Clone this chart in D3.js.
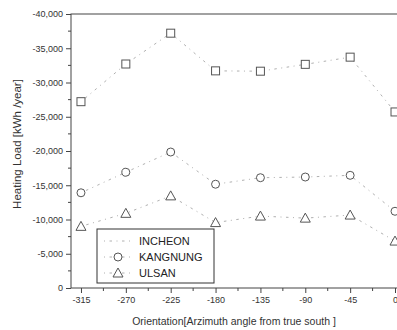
<!DOCTYPE html>
<html>
<head>
<meta charset="utf-8">
<script src="https://cdn.jsdelivr.net/npm/d3@7"></script>
<style>
  html, body { margin: 0; padding: 0; background: #fff; }
  svg { display: block; font-family: "Liberation Sans", Arial, sans-serif; }
</style>
</head>
<body>
<svg id="chart" width="397" height="330"></svg>
<script>
// Orientation angles (degrees from true south)
const orientations = [-315, -270, -225, -180, -135, -90, -45, 0];
const xTickValues = [-315, -270, -225, -180, -135, -90, -45, 0];
const yTickValues = [0, -5000, -10000, -15000, -20000, -25000, -30000, -35000, -40000];

// Heating load per city [kWh/year]
const incheon  = [-27200, -32700, -37200, -31700, -31650, -32650, -33700, -25700];
const kangnung = [-13900, -16900, -19850, -15150, -16100, -16200, -16450, -11200];
const ulsan    = [-9000, -10900, -13450, -9550, -10500, -10200, -10650, -6850];

const seriesNames = ["INCHEON", "KANGNUNG", "ULSAN"];
const seriesValues = [incheon, kangnung, ulsan];
const seriesMarkers = ["square", "circle", "triangle"];

const svg = d3.select("#chart");
const plotLeft = 71, plotRight = 400, plotTop = 14, plotBottom = 288;

const x = d3.scaleLinear().domain([-325, 5]).range([plotLeft, plotRight]);
const y = d3.scaleLinear().domain([0, -40000]).range([plotBottom, plotTop]);

const axisColor = "#444";
const textColor = "#333";

// Frame
svg.append("rect")
  .attr("x", plotLeft).attr("y", plotTop)
  .attr("width", plotRight - plotLeft).attr("height", plotBottom - plotTop)
  .attr("fill", "none").attr("stroke", axisColor).attr("stroke-width", 1);

// X axis
const xAxis = svg.append("g").attr("transform", `translate(0,${plotBottom})`)
  .call(d3.axisBottom(x).tickValues(xTickValues).tickSize(5).tickPadding(4));
const xMinor = d3.range(-292.5, 0, 45);
svg.append("g").attr("transform", `translate(0,${plotBottom})`)
  .selectAll("line").data(xMinor).join("line")
  .attr("x1", d => x(d)).attr("x2", d => x(d))
  .attr("y1", 0).attr("y2", 3)
  .attr("stroke", axisColor);

// Y axis
const yAxis = svg.append("g").attr("transform", `translate(${plotLeft},0)`)
  .call(d3.axisLeft(y).tickValues(yTickValues).tickSize(5).tickPadding(3));
const yMinor = d3.range(-2500, -40000, -5000);
svg.append("g").attr("transform", `translate(${plotLeft},0)`)
  .selectAll("line").data(yMinor).join("line")
  .attr("x1", -3).attr("x2", 0)
  .attr("y1", d => y(d)).attr("y2", d => y(d))
  .attr("stroke", axisColor);

[xAxis, yAxis].forEach(g => {
  g.select(".domain").remove();
  g.selectAll(".tick line").attr("stroke", axisColor);
  g.selectAll(".tick text")
    .attr("fill", textColor)
    .style("font-size", "9px")
    .style("font-family", "'Liberation Sans', Arial, sans-serif");
});
// Labels use a plain hyphen for the minus sign
yAxis.selectAll(".tick text").text(d => d === 0 ? "0" : "-" + d3.format(",")(-d));
xAxis.selectAll(".tick text").text(d => d === 0 ? "0" : "-" + (-d));

// Axis titles
svg.append("text")
  .attr("x", 234).attr("y", 325)
  .attr("text-anchor", "middle")
  .attr("fill", textColor)
  .style("font-size", "10.5px")
  .text("Orientation[Arzimuth angle from true south ]");

svg.append("text")
  .attr("transform", "translate(21,144) rotate(-90)")
  .attr("text-anchor", "middle")
  .attr("fill", textColor)
  .style("font-size", "11.5px")
  .text("Heating Load [kWh /year]");

// Series lines and markers
const lineGen = d3.line().x((d, i) => x(orientations[i])).y(d => y(d));
const lineColor = "#b0b0b0";
const dash = "1,4.5,2.5,4.5";

function drawMarker(g, type, cx, cy) {
  const stroke = "#555";
  if (type === "square") {
    g.append("rect").attr("x", cx - 4).attr("y", cy - 4).attr("width", 8).attr("height", 8)
      .attr("fill", "#fff").attr("stroke", stroke).attr("stroke-width", 1);
  } else if (type === "circle") {
    g.append("circle").attr("cx", cx).attr("cy", cy).attr("r", 4)
      .attr("fill", "#fff").attr("stroke", stroke).attr("stroke-width", 1);
  } else {
    g.append("path")
      .attr("d", `M${cx},${cy - 5}L${cx + 5},${cy + 4}L${cx - 5},${cy + 4}Z`)
      .attr("fill", "#fff").attr("stroke", stroke).attr("stroke-width", 1);
  }
}

seriesValues.forEach((vals, si) => {
  const g = svg.append("g");
  g.append("path").attr("d", lineGen(vals))
    .attr("fill", "none").attr("stroke", lineColor)
    .attr("stroke-width", 1).attr("stroke-dasharray", dash);
  vals.forEach((v, i) => drawMarker(g, seriesMarkers[si], x(orientations[i]), y(v)));
});

// Legend
const legend = svg.append("g");
legend.append("rect")
  .attr("x", 97).attr("y", 229).attr("width", 117).attr("height", 54)
  .attr("fill", "#fff").attr("stroke", "#333").attr("stroke-width", 1);
const legendY = [241, 257, 273];
seriesNames.forEach((name, i) => {
  const ly = legendY[i];
  legend.append("line")
    .attr("x1", 104).attr("x2", 132).attr("y1", ly).attr("y2", ly)
    .attr("stroke", lineColor).attr("stroke-width", 1).attr("stroke-dasharray", dash);
  if (i > 0) drawMarker(legend, seriesMarkers[i], 118, ly);
  legend.append("text")
    .attr("x", 139).attr("y", ly + 4)
    .attr("fill", "#222")
    .style("font-size", "11px")
    .text(name);
});
</script>
</body>
</html>
